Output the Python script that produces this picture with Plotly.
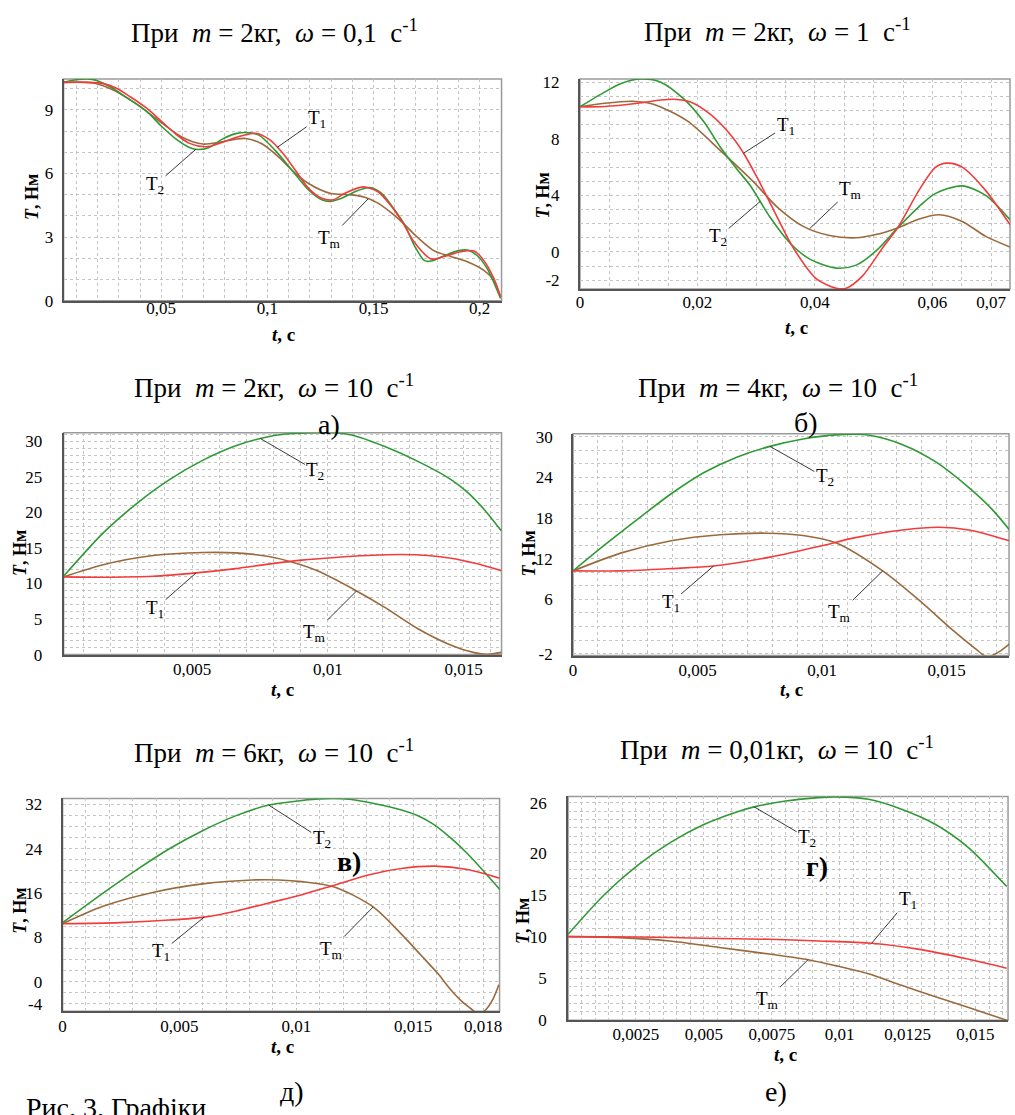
import numpy as np
import plotly.graph_objects as go

W, H = 1015, 1115

# ---------------- Panel 1: m = 2 кг, ω = 0,1 с^-1 ----------------
p1_t_T1 = [0.0040, 0.0149, 0.0227, 0.0289, 0.0352, 0.0430, 0.0500, 0.0570, 0.0633, 0.0711, 0.0773, 0.0851,
           0.0944, 0.1007, 0.1069, 0.1132, 0.1194, 0.1256, 0.1311, 0.1365, 0.1451, 0.1521, 0.1584, 0.1638,
           0.1693, 0.1771, 0.1833, 0.1911, 0.1974, 0.2020, 0.2067, 0.2098]
p1_T1 = [10.30, 10.30, 10.24, 10.02, 9.63, 9.09, 8.47, 7.85, 7.42, 7.26, 7.42, 7.70,
         7.90, 7.62, 7.00, 6.15, 5.30, 4.83, 4.76, 5.07, 5.37, 5.14, 4.45, 3.67,
         2.74, 1.97, 2.09, 2.31, 2.35, 1.89, 1.04, 0.19]
p1_t_T2 = [0.0040, 0.0102, 0.0149, 0.0196, 0.0258, 0.0336, 0.0430, 0.0500, 0.0570, 0.0633, 0.0672, 0.0726,
           0.0788, 0.0851, 0.0905, 0.0960, 0.1038, 0.1116, 0.1194, 0.1256, 0.1295, 0.1350, 0.1412, 0.1482,
           0.1537, 0.1599, 0.1646, 0.1693, 0.1740, 0.1771, 0.1833, 0.1896, 0.1942, 0.1989, 0.2036, 0.2098]
p1_T2 = [10.30, 10.42, 10.46, 10.39, 10.10, 9.59, 8.94, 8.24, 7.62, 7.23, 7.13, 7.23,
         7.62, 7.88, 7.93, 7.81, 7.08, 6.15, 5.22, 4.76, 4.68, 4.83, 5.14, 5.34,
         5.07, 4.29, 3.59, 2.59, 1.89, 1.87, 2.12, 2.35, 2.39, 2.12, 1.50, 0.11]
p1_t_Tm = [0.0040, 0.0180, 0.0274, 0.0383, 0.0500, 0.0601, 0.0695, 0.0773, 0.0851, 0.0898, 0.0976, 0.1054,
           0.1116, 0.1194, 0.1295, 0.1397, 0.1459, 0.1521, 0.1584, 0.1638, 0.1709, 0.1786, 0.1864, 0.1942,
           0.2020, 0.2067, 0.2098]
p1_Tm = [10.30, 10.27, 9.94, 9.28, 8.40, 7.70, 7.39, 7.47, 7.62, 7.65, 7.39, 6.77,
         6.15, 5.53, 5.07, 4.99, 4.88, 4.60, 4.14, 3.67, 2.97, 2.35, 2.09, 1.84,
         1.43, 0.96, 0.19]

# ---------------- Panel 2: m = 2 кг, ω = 1 с^-1 ----------------
p2_t_T1 = [0.0, 0.00417, 0.00981, 0.01375, 0.0160, 0.01883, 0.02221, 0.02559, 0.02785, 0.0301, 0.03292,
           0.0363, 0.04025, 0.04363, 0.04532, 0.04814, 0.05152, 0.05406, 0.05772, 0.06054, 0.06251, 0.06505,
           0.0690, 0.0732]
p2_T1 = [10.26, 10.28, 10.51, 10.74, 10.79, 10.60, 9.72, 8.30, 6.98, 5.30, 3.00,
         0.30, -1.90, -2.56, -2.56, -1.67, 0.30, 1.70, 4.37, 6.00, 6.28, 6.00,
         4.37, 1.93]
p2_t_T2 = [0.0, 0.00417, 0.00699, 0.01037, 0.01375, 0.0177, 0.02108, 0.0239, 0.02672, 0.02897, 0.03236,
           0.03574, 0.03912, 0.04363, 0.04701, 0.05039, 0.05406, 0.05772, 0.06054, 0.06505, 0.0690, 0.0732]
p2_T2 = [10.26, 11.30, 11.91, 12.23, 12.00, 10.80, 9.20, 7.40, 5.85, 4.70, 2.45,
         0.63, -0.51, -1.14, -0.93, 0.07, 1.70, 3.21, 4.14, 4.67, 4.02, 2.28]
p2_t_Tm = [0.0, 0.00417, 0.00896, 0.01263, 0.01826, 0.0239, 0.02954, 0.03348, 0.03799, 0.0425, 0.04701,
           0.05039, 0.05406, 0.05772, 0.06111, 0.06505, 0.0690, 0.0732]
p2_Tm = [10.26, 10.51, 10.65, 10.42, 9.26, 7.16, 4.95, 3.21, 1.81, 1.16, 1.00,
         1.23, 1.70, 2.33, 2.63, 2.16, 1.12, 0.35]

# ---------------- Panel 3: m = 2 кг, ω = 10 с^-1 ----------------
p3_t_T1 = [0.00027, 0.00173, 0.00356, 0.00515, 0.00661, 0.00783, 0.00905, 0.01027, 0.01149, 0.01271,
           0.01368, 0.01454, 0.01539, 0.01639]
p3_T1 = [10.92, 10.87, 11.00, 11.48, 12.08, 12.72, 13.28, 13.65, 13.92, 14.06,
         13.92, 13.55, 12.86, 11.80]
p3_t_T2 = [0.00027, 0.00173, 0.00295, 0.00417, 0.00539, 0.00661, 0.00759, 0.00844, 0.00966, 0.01027,
           0.01088, 0.0121, 0.01332, 0.01454, 0.01515, 0.01576, 0.01639]
p3_T2 = [11.00, 17.10, 21.20, 24.60, 27.30, 29.35, 30.45, 31.00, 31.18, 31.18,
         30.86, 29.24, 27.16, 24.60, 22.80, 20.40, 17.40]
p3_t_Tm = [0.00027, 0.00173, 0.00356, 0.00539, 0.00661, 0.00783, 0.0088, 0.00966, 0.01106, 0.0121,
           0.01332, 0.01454, 0.01539, 0.01588, 0.01639]
p3_Tm = [10.92, 12.63, 13.92, 14.34, 14.29, 13.78, 12.86, 11.70, 8.94, 6.63,
         3.63, 1.32, 0.27, 0.03, 0.31]

# ---------------- Panel 4: m = 4 кг, ω = 10 с^-1 ----------------
p4_t_T1 = [0.0, 0.00194, 0.00394, 0.00564, 0.0079, 0.0099, 0.01123, 0.01323, 0.01469, 0.01589, 0.01752]
p4_T1 = [10.21, 10.21, 10.55, 10.93, 12.24, 13.84, 15.05, 16.26, 16.65, 16.26, 14.66]
p4_t_T2 = [0.0, 0.00128, 0.00261, 0.00394, 0.00524, 0.00657, 0.0079, 0.00923, 0.01057, 0.0119, 0.01323,
           0.01456, 0.01589, 0.01682, 0.01752]
p4_T2 = [10.21, 14.08, 17.90, 21.60, 24.70, 27.00, 28.60, 29.70, 30.30, 30.25, 28.85,
         26.30, 22.50, 19.30, 16.26]
p4_t_Tm = [0.0, 0.00194, 0.00394, 0.00591, 0.00777, 0.00923, 0.01057, 0.01243, 0.0139, 0.01523, 0.01616,
           0.01663, 0.01709, 0.01752]
p4_Tm = [10.21, 12.87, 14.66, 15.54, 15.78, 15.44, 14.33, 10.21, 5.85, 1.49, -1.30,
         -2.50, -1.75, -0.55]

# ---------------- Panel 5: m = 6 кг, ω = 10 с^-1 ----------------
p5_t_T1 = [0.0, 0.00244, 0.00457, 0.00606, 0.0074, 0.00882, 0.01024, 0.01166, 0.01308, 0.0145, 0.01591,
           0.01733, 0.01872]
p5_T1 = [10.49, 10.67, 11.14, 11.67, 12.74, 14.22, 15.70, 17.48, 19.26, 20.44, 20.86, 20.27, 18.67]
p5_t_T2 = [0.0, 0.00173, 0.00315, 0.00457, 0.00599, 0.0074, 0.00882, 0.01024, 0.01095, 0.01237, 0.0145,
           0.01521, 0.01591, 0.01662, 0.01733, 0.01804, 0.01872]
p5_T2 = [10.67, 16.00, 20.15, 24.00, 27.26, 29.93, 31.88, 32.71, 33.00, 32.89, 31.00,
         29.95, 28.30, 25.90, 23.10, 19.85, 16.60]
p5_t_Tm = [0.0, 0.00173, 0.00386, 0.00599, 0.00811, 0.00925, 0.01024, 0.01166, 0.01329, 0.0145, 0.01535,
           0.01606, 0.01662, 0.01712, 0.01748, 0.01769, 0.01804, 0.0184, 0.01867]
p5_Tm = [10.49, 13.63, 16.12, 17.66, 18.37, 18.37, 18.07, 17.07, 13.51, 8.59, 4.74,
         1.48, -1.48, -3.67, -4.86, -5.55, -5.30, -3.26, -0.53]

# ---------------- Panel 6: m = 0,01 кг, ω = 10 с^-1 ----------------
p6_t_T1 = [0.0, 0.00257, 0.00496, 0.0074, 0.00923, 0.01118, 0.01289, 0.01472, 0.01615]
p6_T1 = [10.00, 9.96, 9.80, 9.68, 9.48, 9.21, 8.50, 7.32, 6.22]
p6_t_T2 = [0.0, 0.00135, 0.00257, 0.00379, 0.00496, 0.00618, 0.00685, 0.00801, 0.00923, 0.00984, 0.01106,
           0.01228, 0.0135, 0.01472, 0.01615]
p6_T2 = [10.27, 15.06, 18.54, 21.29, 23.34, 24.87, 25.51, 26.21, 26.62, 26.70, 26.41,
         25.23, 23.46, 20.70, 15.98]
p6_t_Tm = [0.0, 0.00191, 0.00374, 0.00557, 0.0074, 0.00884, 0.00984, 0.01106, 0.01228, 0.0135, 0.01472, 0.01615]
p6_Tm = [10.00, 9.88, 9.48, 8.70, 7.91, 7.24, 6.53, 5.55, 4.17, 2.85, 1.55, 0.00]

# titles and tick labels
titles = ["При\u00a0 <i>m</i> = 2кг,\u00a0 <i>ω</i> = 0,1\u00a0 с<sup>-1</sup>",
          "При\u00a0 <i>m</i> = 2кг,\u00a0 <i>ω</i> = 1\u00a0 с<sup>-1</sup>",
          "При\u00a0 <i>m</i> = 2кг,\u00a0 <i>ω</i> = 10\u00a0 с<sup>-1</sup>",
          "При\u00a0 <i>m</i> = 4кг,\u00a0 <i>ω</i> = 10\u00a0 с<sup>-1</sup>",
          "При\u00a0 <i>m</i> = 6кг,\u00a0 <i>ω</i> = 10\u00a0 с<sup>-1</sup>",
          "При\u00a0 <i>m</i> = 0,01кг,\u00a0 <i>ω</i> = 10\u00a0 с<sup>-1</sup>"]
x_ticks = [[0.05, 0.1, 0.15, 0.2], [0, 0.02, 0.04, 0.06, 0.07], [0.005, 0.01, 0.015],
           [0, 0.005, 0.01, 0.015], [0, 0.005, 0.01, 0.015, 0.018],
           [0.0025, 0.005, 0.0075, 0.01, 0.0125, 0.015]]
x_ticktext = [["0,05", "0,1", "0,15", "0,2"], ["0", "0,02", "0,04", "0,06", "0,07"],
              ["0,005", "0,01", "0,015"], ["0", "0,005", "0,01", "0,015"],
              ["0", "0,005", "0,01", "0,015", "0,018"],
              ["0,0025", "0,005", "0,0075", "0,01", "0,0125", "0,015"]]
y_ticks = [[0, 3, 6, 9], [-2, 0, 4, 8, 12], [0, 5, 10, 15, 20, 25, 30], [-2, 6, 12, 18, 24, 30],
           [-4, 0, 8, 16, 24, 32], [0, 5, 10, 15, 20, 26]]
sub_labels = ["а)", "б)", "в)", "г)", "д)", "е)"]
caption = "Рис. 3. Графіки"

# ---------------- layout geometry (pixels) ----------------
boxes = [(60, 501, 74, 299), (580, 1013, 74, 287), (60, 501, 433, 658),
         (573, 1012, 434, 659), (59, 499, 804, 1020), (568, 1011, 802, 1029)]
x_ranges = [[0.004, 0.2103], [0, 0.0732], [0.00027, 0.0164], [0, 0.0175], [0, 0.0187], [0, 0.0162]]
y_ranges = [[0, 10.46], [-2.61, 12.23], [0, 31.18], [-2.29, 30.46], [-5.33, 33.07], [0, 26.75]]
x_grid = [0.01, 0.005, 0.001, 0.001, 0.001, 0.0005]
y_grid = [1, 1, 1, 2, 2, 1]
title_base = [(272, 39), (779, 38), (272, 399), (779, 399), (272, 769), (778, 766)]
ytitle_pos = [(28, 194), (543, 192), (16, 555), (529, 555), (16, 918), (522, 928)]
xtitle_pos = [(281, 333), (798, 326), (280, 693), (793, 693), (280, 1056), (787, 1064)]
sub_pos = [(327, 425, False), (808, 423, False), (347, 868, True), (819, 873, True),
           (290, 1101, False), (777, 1101, False)]
ylab_standoff = [5, 15, 16, 15, 15, 16]
xlab_standoff = [-9, -3, -2, -2, -2, -3]

panels = [
    {"T1": (p1_t_T1, p1_T1), "T2": (p1_t_T2, p1_T2), "Tm": (p1_t_Tm, p1_Tm)},
    {"T1": (p2_t_T1, p2_T1), "T2": (p2_t_T2, p2_T2), "Tm": (p2_t_Tm, p2_Tm)},
    {"T1": (p3_t_T1, p3_T1), "T2": (p3_t_T2, p3_T2), "Tm": (p3_t_Tm, p3_Tm)},
    {"T1": (p4_t_T1, p4_T1), "T2": (p4_t_T2, p4_T2), "Tm": (p4_t_Tm, p4_Tm)},
    {"T1": (p5_t_T1, p5_T1), "T2": (p5_t_T2, p5_T2), "Tm": (p5_t_Tm, p5_Tm)},
    {"T1": (p6_t_T1, p6_T1), "T2": (p6_t_T2, p6_T2), "Tm": (p6_t_Tm, p6_Tm)},
]
# curve labels: (series, t at tip, text offset x, text offset y in px)
curve_labels = [
    [("T1", 0.1046, 40, -28), ("T2", 0.0664, -41, 36), ("Tm", 0.1475, -39, 40)],
    [("T1", 0.02785, 42, -27), ("T2", 0.03067, -42, 36), ("Tm", 0.0391, 41, -39)],
    [("T2", 0.00752, 55, 32), ("T1", 0.00515, -41, 36), ("Tm", 0.01106, -42, 42)],
    [("T2", 0.0079, 55, 31), ("T1", 0.00564, -43, 37), ("Tm", 0.01243, -43, 42)],
    [("T2", 0.00882, 53, 34), ("T1", 0.00606, -43, 35), ("Tm", 0.01329, -42, 43)],
    [("T2", 0.00685, 53, 31), ("T1", 0.01118, 36, -43), ("Tm", 0.00884, -41, 40)],
]
label_html = {"T1": "T<sub>1</sub>", "T2": "T<sub>2</sub>", "Tm": "T<sub>m</sub>"}
colors = {"T1": "#f23c3c", "T2": "#2f9a34", "Tm": "#9b6a3c"}
order = ["Tm", "T2", "T1"]

SERIF = "Liberation Serif"
GRID = "#c4c4c4"

fig = go.Figure()
layout = dict(width=W, height=H, margin=dict(l=0, r=0, t=0, b=0),
              paper_bgcolor="white", plot_bgcolor="white", showlegend=False,
              font=dict(family=SERIF, color="black"))
annotations = []
shapes = []


def px(x, y):
    return x / W, 1 - y / H


for i in range(6):
    k = "" if i == 0 else str(i + 1)
    xa, ya = "x" + k, "y" + k
    x0, x1, y0, y1 = boxes[i]
    for s in order:
        tt, vv = panels[i][s]
        fig.add_trace(go.Scatter(x=tt, y=vv, mode="lines", xaxis=xa, yaxis=ya,
                                 line=dict(color=colors[s], width=1.6, shape="spline", smoothing=0.8),
                                 hoverinfo="skip"))
    layout["xaxis" + k] = dict(
        domain=[x0 / W, x1 / W], anchor=ya, range=x_ranges[i],
        tickmode="array", tickvals=x_ticks[i], ticktext=x_ticktext[i],
        showgrid=True, gridcolor=GRID, griddash="dot", gridwidth=1,
        minor=dict(tickmode="linear", tick0=0, dtick=x_grid[i], showgrid=True,
                   gridcolor=GRID, griddash="dot", gridwidth=1),
        showline=True, linecolor="#555555", linewidth=2, mirror=False,
        ticks="", zeroline=False, ticklabelstandoff=xlab_standoff[i],
        tickfont=dict(family=SERIF, size=17, color="black"), fixedrange=True)
    layout["yaxis" + k] = dict(
        domain=[1 - y1 / H, 1 - y0 / H], anchor=xa, range=y_ranges[i],
        tickmode="array", tickvals=y_ticks[i], ticktext=[str(v) for v in y_ticks[i]],
        showgrid=True, gridcolor=GRID, griddash="dot", gridwidth=1,
        minor=dict(tickmode="linear", tick0=0, dtick=y_grid[i], showgrid=True,
                   gridcolor=GRID, griddash="dot", gridwidth=1),
        showline=True, linecolor="#555555", linewidth=2, mirror=False,
        ticks="", zeroline=False, ticklabelstandoff=ylab_standoff[i],
        tickfont=dict(family=SERIF, size=17, color="black"), fixedrange=True)
    shapes.append(dict(type="rect", xref=xa + " domain", yref=ya + " domain",
                       x0=0, x1=1, y0=0, y1=1, line=dict(color="#9a9a9a", width=1.5), layer="below"))

    # title (anchored on its baseline)
    tx, ty = px(title_base[i][0], title_base[i][1] + 6)
    annotations.append(dict(x=tx, y=ty, xref="paper", yref="paper", text=titles[i], showarrow=False,
                            xanchor="center", yanchor="bottom", font=dict(family=SERIF, size=27)))
    # axis titles
    ax_, ay_ = px(*ytitle_pos[i])
    annotations.append(dict(x=ax_, y=ay_, xref="paper", yref="paper", text="<b><i>T</i>, Нм</b>",
                            showarrow=False, textangle=-90, xanchor="center", yanchor="middle",
                            font=dict(family=SERIF, size=18)))
    bx, by = px(*xtitle_pos[i])
    annotations.append(dict(x=bx, y=by, xref="paper", yref="paper", text="<b><i>t</i>, с</b>",
                            showarrow=False, xanchor="center", yanchor="middle",
                            font=dict(family=SERIF, size=19)))
    # sub labels
    sx, sy, bold = sub_pos[i]
    sxp, syp = px(sx, sy)
    annotations.append(dict(x=sxp, y=syp, xref="paper", yref="paper",
                            text=("<b>%s</b>" % sub_labels[i]) if bold else sub_labels[i],
                            showarrow=False, xanchor="center", yanchor="middle",
                            font=dict(family=SERIF, size=28)))
    # curve labels with leader lines
    for s, tip_t, offx, offy in curve_labels[i]:
        tt, vv = panels[i][s]
        tip_y = float(np.interp(tip_t, tt, vv))
        annotations.append(dict(x=tip_t, y=tip_y, xref=xa, yref=ya, text=label_html[s],
                                showarrow=True, arrowhead=0, arrowwidth=0.9, arrowcolor="#222222",
                                ax=offx, ay=offy, standoff=0, startstandoff=0,
                                font=dict(family=SERIF, size=19, color="black")))

# figure caption (cut off at the bottom of the picture)
cx, cy = px(20, 1100)
annotations.append(dict(x=cx, y=cy, xref="paper", yref="paper", text=caption, showarrow=False,
                        xanchor="left", yanchor="top", font=dict(family=SERIF, size=28)))

layout["annotations"] = annotations
layout["shapes"] = shapes
fig.update_layout(**layout)

fig.write_html("out.html", config={"displayModeBar": False},
               post_script="document.body.style.margin='0';document.body.style.overflow='hidden';")
